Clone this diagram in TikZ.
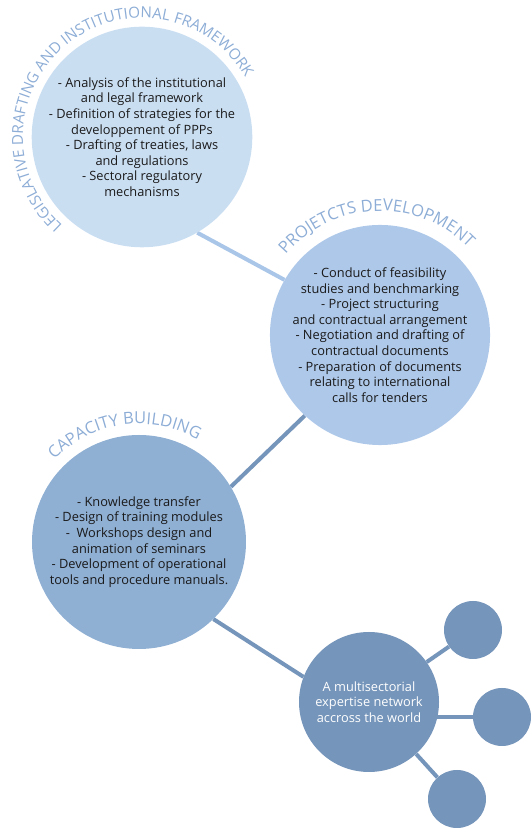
\documentclass[tikz,border=0pt]{standalone}
\usepackage{fontspec}
\setmainfont{Open Sans}
\usetikzlibrary{decorations.text,backgrounds}

\definecolor{circA}{RGB}{202,222,242}
\definecolor{circB}{RGB}{174,200,233}
\definecolor{circC}{RGB}{143,175,211}
\definecolor{circD}{RGB}{117,149,186}
\definecolor{lineA}{RGB}{169,198,232}
\definecolor{titleblue}{RGB}{141,173,214}
\definecolor{textdark}{RGB}{26,26,26}

\newcommand\arcfont{\fontsize{16.5}{16.5}\selectfont}
\newcommand\arcfontsmall{\fontsize{15.2}{15.2}\selectfont}

\tikzset{
  bubble/.style={circle, inner sep=0pt, align=center, text=textdark,
    font=\fontsize{12.8}{15.6}\selectfont},
  link/.style={line width=4pt},
  arctitle/.style={decorate, decoration={text along path, text align=center,
    text color=titleblue}}
}

\begin{document}
\begin{tikzpicture}[x=1pt, y=1pt]
	\useasboundingbox (0, 0) rectangle (531, 829);
	% Cercles
	\node[bubble, fill=circA, minimum size=214pt] (legal) at (142, 692)
		{- Analysis of the institutional\\ and legal framework\\ - Definition of strategies for the\\ developpement of PPPs\\ - Drafting of treaties, laws\\ and regulations\\ - Sectoral regulatory\\ mechanisms};
	\node[bubble, fill=circB, minimum size=212pt] (projects) at (380, 494)
		{- Conduct of feasibility\\ studies and benchmarking\\ - Project structuring\\ and contractual arrangement\\ - Negotiation and drafting of\\ contractual documents\\ - Preparation of documents\\ relating to international\\ calls for tenders};
	\node[bubble, fill=circC, minimum size=214pt] (capacity) at (139, 287)
		{- Knowledge transfer\\ - Design of training modules\\ - \ Workshops design and\\ animation of seminars\\ - Development of operational\\ tools and procedure manuals.};
	\node[bubble, fill=circD, minimum size=140pt, text=white] (network) at (369, 127)
		{A multisectorial\\ expertise network\\ accross the world};
	\node[circle, fill=circD, minimum size=58pt] (expA) at (473, 199) {};
	\node[circle, fill=circD, minimum size=58pt] (expB) at (502, 112) {};
	\node[circle, fill=circD, minimum size=58pt] (expC) at (457, 30) {};

	% Liens
	\begin{scope}[on background layer]
		\draw[link, lineA] (legal.-60) -- (projects.150);
		\draw[link, circD] (projects.227) -- (capacity.31);
		\draw[link, circD] (capacity.-46) -- (network.159);
		\draw[link, circD] (network) -- (expA);
		\draw[link, circD] (expB) -- (expB -| network);
		\draw[link, circD] (network) -- (expC);
	\end{scope}

	% Titres
	\path[arctitle, decoration={text={|\arcfontsmall|LEGISLATIVE DRAFTING AND INSTITUTIONAL FRAMEWORK}}]
		(legal.center) ++(244:119) arc[start angle=244, end angle=14, radius=119];
	\path[arctitle, decoration={text={|\arcfont|PROJETCTS DEVELOPMENT}}]
		(projects.center) ++(182:124) arc[start angle=182, end angle=2, radius=124];
	\path[arctitle, decoration={text={|\arcfont|CAPACITY BUILDING}}]
		(capacity.center) ++(188:118) arc[start angle=188, end angle=8, radius=118];
\end{tikzpicture}
\end{document}
